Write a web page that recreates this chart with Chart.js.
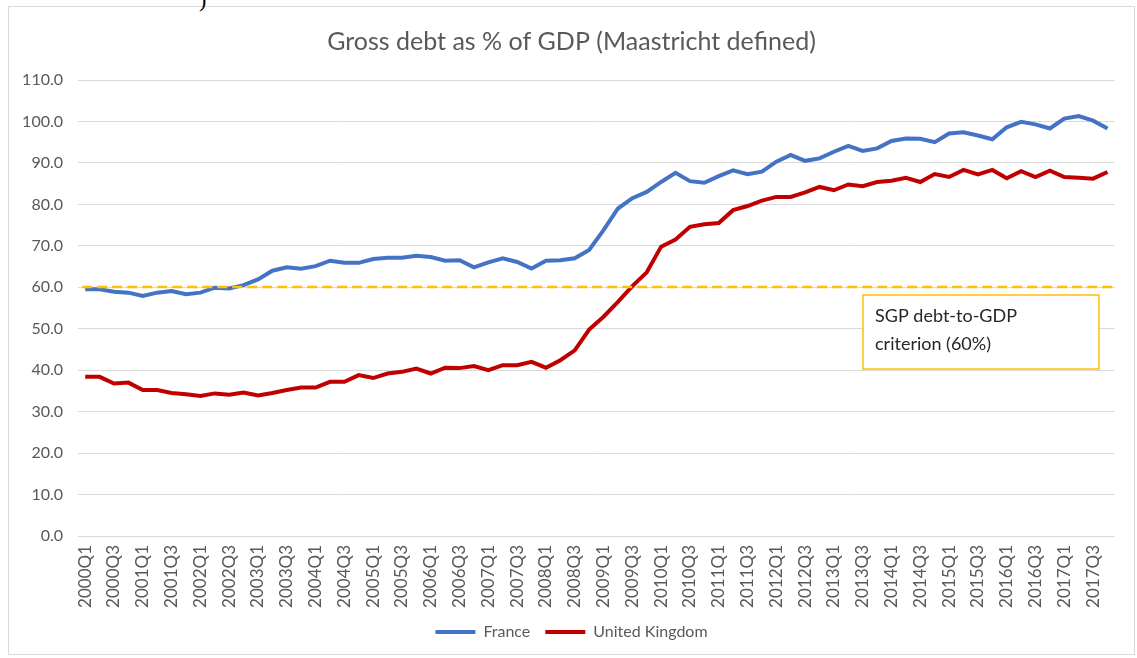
<!DOCTYPE html>
<html>
<head>
<meta charset="utf-8">
<script src="https://cdn.jsdelivr.net/npm/chart.js@4.4.0/dist/chart.umd.min.js"></script>
<style>
  html, body { margin: 0; padding: 0; background: #fff; }
  #wrap { position: relative; width: 1137px; height: 658px; overflow: hidden; }
  #frame { position: absolute; left: 8px; top: 6px; width: 1127px; height: 649px; border: 1px solid #d9d9d9; box-sizing: border-box; }
  #paren { position: absolute; left: 199px; top: -13px; font: 22px "Liberation Serif", serif; color: #000; }
  canvas { position: absolute; left: 0; top: 0; }
</style>
</head>
<body>
<div id="wrap">
  <div id="frame"></div>
  <span id="paren">)</span>
  <canvas id="debtChart" width="1137" height="658"></canvas>
</div>
<script>
// quarterly, 2000Q1 .. 2017Q4
const years = [2000, 2001, 2002, 2003, 2004, 2005, 2006, 2007, 2008,
               2009, 2010, 2011, 2012, 2013, 2014, 2015, 2016, 2017];
const quarters = [];
years.forEach(y => { for (let q = 1; q <= 4; q++) quarters.push(y + 'Q' + q); });

const france = [
  59.5, 59.5, 58.9, 58.7,  57.9, 58.7, 59.1, 58.3,  58.7, 59.9, 59.7, 60.5,
  61.9, 64.0, 64.8, 64.5,  65.1, 66.4, 65.9, 65.9,  66.8, 67.1, 67.1, 67.6,
  67.3, 66.4, 66.5, 64.8,  66.0, 67.0, 66.1, 64.5,  66.4, 66.5, 67.0, 69.0,
  73.8, 79.0, 81.5, 83.0,  85.4, 87.6, 85.6, 85.2,  86.8, 88.2, 87.3, 87.9,
  90.3, 91.9, 90.5, 91.1,  92.7, 94.1, 92.9, 93.5,  95.3, 95.9, 95.8, 95.0,
  97.1, 97.4, 96.6, 95.7,  98.6, 99.9, 99.3, 98.3,  100.7, 101.3, 100.2, 98.3
];
const unitedKingdom = [
  38.4, 38.4, 36.8, 37.0,  35.2, 35.2, 34.5, 34.2,  33.8, 34.4, 34.1, 34.6,
  33.9, 34.5, 35.2, 35.8,  35.8, 37.2, 37.2, 38.8,  38.1, 39.2, 39.6, 40.4,
  39.2, 40.6, 40.5, 41.0,  40.0, 41.2, 41.2, 42.0,  40.6, 42.4, 44.8, 49.8,
  52.9, 56.5, 60.3, 63.6,  69.8, 71.5, 74.6, 75.2,  75.5, 78.6, 79.6, 80.9,
  81.8, 81.8, 82.9, 84.2,  83.4, 84.8, 84.4, 85.4,  85.7, 86.4, 85.4, 87.3,
  86.6, 88.3, 87.2, 88.3,  86.3, 88.0, 86.6, 88.1,  86.6, 86.4, 86.2, 87.8
];
const criterion = 60;
const criterionNote = ['SGP debt-to-GDP', 'criterion (60%)'];

const FONT = 'Lato, "Open Sans", sans-serif';
const GREY = '#595959';

// dashed 60% reference line
const criterionLine = {
    id: 'criterionLine',
    afterDatasetsDraw(chart) {
        const { ctx, chartArea, scales: { x, y } } = chart;
        const yPos = Math.round(y.getPixelForValue(criterion));
        ctx.save();
        ctx.strokeStyle = '#FFC000';
        ctx.lineWidth = 2.5;
        ctx.setLineDash([10, 5]);
        ctx.beginPath();
        ctx.moveTo(x.getPixelForValue(0) - 3, yPos);
        ctx.lineTo(chartArea.right, yPos);
        ctx.stroke();
        ctx.restore();
    }
};

// text box under the line, placed in data units
const noteBox = {
    id: 'noteBox',
    afterDraw(chart) {
        const { ctx, scales: { x, y } } = chart;
        const left = Math.round(x.getPixelForValue(54.0));
        const right = Math.round(x.getPixelForValue(70.4));
        const top = Math.round(y.getPixelForValue(58.1));
        const bottom = Math.round(y.getPixelForValue(40.2));
        ctx.save();
        ctx.fillStyle = '#fff';
        ctx.fillRect(left, top, right - left, bottom - top);
        ctx.strokeStyle = '#FFC000';
        ctx.lineWidth = 1.5;
        ctx.strokeRect(left, top, right - left, bottom - top);
        ctx.fillStyle = '#262626';
        ctx.font = '18px ' + FONT;
        ctx.textBaseline = 'middle';
        ctx.fillText(criterionNote[0], left + 12, top + 21);
        ctx.fillText(criterionNote[1], left + 12, top + 49);
        ctx.restore();
    }
};

const ctx = document.getElementById('debtChart');

new Chart(ctx, {
    type: 'line',
    data: {
        labels: quarters,
        datasets: [
            {
                label: 'France',
                data: france,
                borderColor: '#4472C4',
                backgroundColor: '#4472C4',
                borderWidth: 4,
                pointRadius: 0,
                pointStyle: 'line',
                tension: 0
            },
            {
                label: 'United Kingdom',
                data: unitedKingdom,
                borderColor: '#C00000',
                backgroundColor: '#C00000',
                borderWidth: 4,
                pointRadius: 0,
                pointStyle: 'line',
                tension: 0
            }
        ]
    },
    options: {
        responsive: false,
        animation: false,
        devicePixelRatio: 1,
        layout: { padding: { left: 22, right: 16, top: 0, bottom: 8 } },
        plugins: {
            title: {
                display: true,
                text: 'Gross debt as % of GDP (Maastricht defined)',
                color: GREY,
                font: { family: FONT, size: 25, weight: 'normal' },
                padding: { top: 27, bottom: 23 }
            },
            legend: {
                position: 'bottom',
                labels: {
                    usePointStyle: true,
                    pointStyleWidth: 40,
                    color: GREY,
                    font: { family: FONT, size: 16 },
                    padding: 15
                }
            },
            tooltip: { enabled: false }
        },
        scales: {
            x: {
                offset: true,
                grid: { display: false, drawTicks: false },
                border: { display: false },
                ticks: {
                    autoSkip: false,
                    maxRotation: 90,
                    minRotation: 90,
                    color: GREY,
                    font: { family: FONT, size: 17 },
                    padding: 9,
                    callback: (v, i) => (i % 2 === 0 ? quarters[i] : '')
                },
                afterFit: s => { s.height = 73; }
            },
            y: {
                min: 0,
                max: 110,
                ticks: {
                    stepSize: 10,
                    color: GREY,
                    font: { family: FONT, size: 16 },
                    padding: 15,
                    callback: v => v.toFixed(1)
                },
                grid: { color: '#d9d9d9', drawTicks: false },
                border: { display: false },
                afterFit: s => { s.width = 56; }
            }
        }
    },
    plugins: [criterionLine, noteBox]
});
</script>
</body>
</html>
